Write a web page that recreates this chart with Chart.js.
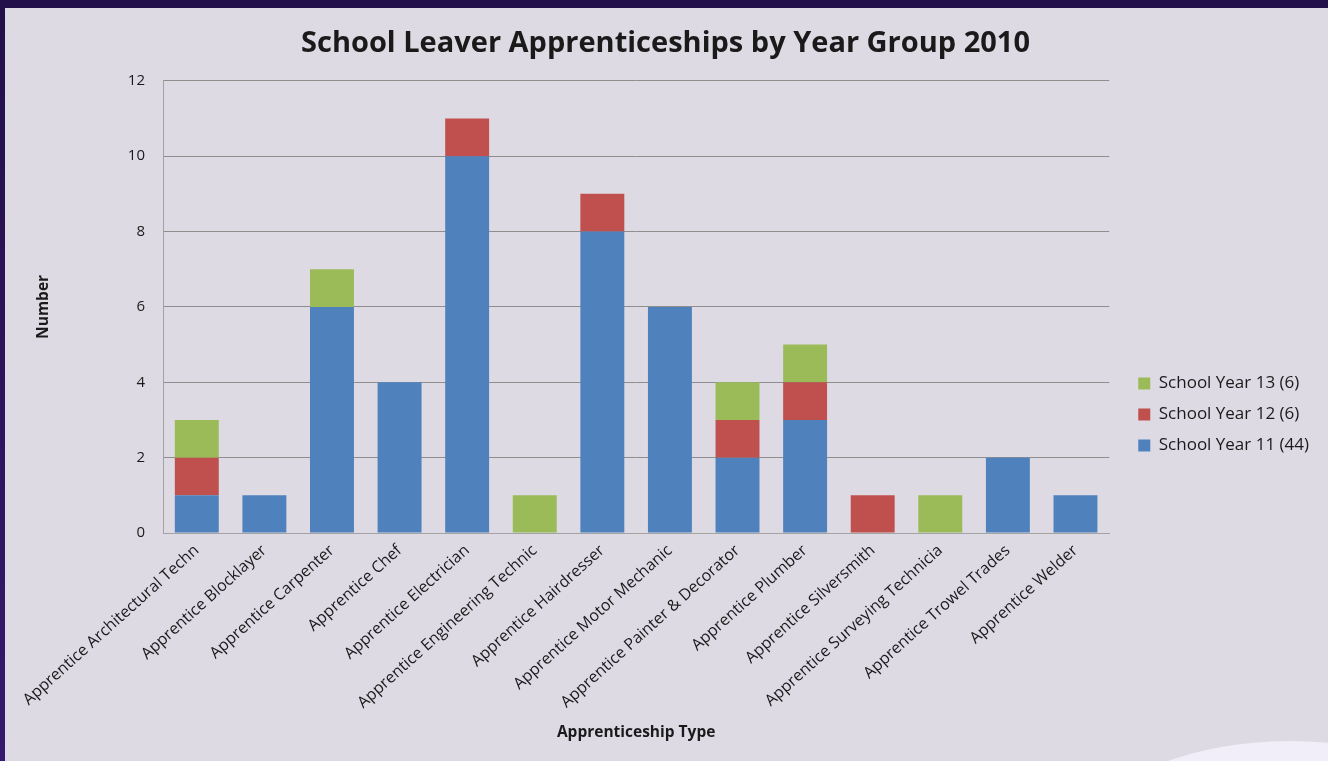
<!DOCTYPE html>
<html>
<head>
<meta charset="utf-8">
<script src="https://cdn.jsdelivr.net/npm/chart.js@4.4.1/dist/chart.umd.min.js"></script>
<style>
  html, body { margin: 0; padding: 0; }
  body {
    width: 1328px; height: 761px; overflow: hidden; position: relative;
    background: linear-gradient(to bottom, #22104a, #36196e);
  }
  #panel {
    position: absolute; left: 5px; top: 8px; width: 1323px; height: 753px;
    background: #dddae4; overflow: hidden;
  }
  /* the pale swoosh in the bottom right corner of the slide */
  #swoosh {
    position: absolute; left: 1005px; top: 733px; width: 560px; height: 400px;
    border-radius: 50%; background: #f1eefa;
  }
  #chart { position: absolute; left: 0; top: 0; }
</style>
</head>
<body>
<div id="panel">
  <div id="swoosh"></div>
  <canvas id="chart" width="1323" height="753"></canvas>
</div>
<script>
// chart data
const apprenticeships = [
  'Apprentice Architectural Techn',
  'Apprentice Blocklayer',
  'Apprentice Carpenter',
  'Apprentice Chef',
  'Apprentice Electrician',
  'Apprentice Engineering Technic',
  'Apprentice Hairdresser',
  'Apprentice Motor Mechanic',
  'Apprentice Painter & Decorator',
  'Apprentice Plumber',
  'Apprentice Silversmith',
  'Apprentice Surveying Technicia',
  'Apprentice Trowel Trades',
  'Apprentice Welder'
];
const year11 = [1, 1, 6, 4, 10, 0, 8, 6, 2, 3, 0, 0, 2, 1];
const year12 = [1, 0, 0, 0, 1, 0, 1, 0, 1, 1, 1, 0, 0, 0];
const year13 = [1, 0, 1, 0, 0, 1, 0, 0, 1, 1, 0, 1, 0, 0];
const seriesNames = ['School Year 11 (44)', 'School Year 12 (6)', 'School Year 13 (6)'];
const yTicks = [0, 2, 4, 6, 8, 10, 12];

const textColour = '#1a1a1a';
const fontFamily = "'Open Sans', 'DejaVu Sans', sans-serif";

// nudges the legend down and right so it sits where the original one did
const legendNudge = {
  id: 'legendNudge',
  afterLayout(chart) {
    const lg = chart.legend;
    lg.left += 15;
    lg.right += 15;
    lg.top += 30;
    lg.bottom += 30;
  }
};

const ctx = document.getElementById('chart');
const schoolLeaverChart = new Chart(ctx, {
  type: 'bar',
  data: {
    labels: apprenticeships,
    datasets: [
      { label: seriesNames[0], data: year11, backgroundColor: '#4f81bd' },
      { label: seriesNames[1], data: year12, backgroundColor: '#c0504d' },
      { label: seriesNames[2], data: year13, backgroundColor: '#9bbb59' }
    ]
  },
  plugins: [legendNudge],
  options: {
    responsive: false,
    animation: false,
    layout: { padding: { left: 22, right: 24, top: 0, bottom: 0 } },
    datasets: {
      bar: { categoryPercentage: 1, barPercentage: 0.65, borderWidth: 0 }
    },
    scales: {
      x: {
        stacked: true,
        grid: { display: false, drawTicks: false },
        border: { color: '#a3a3a3', width: 1 },
        ticks: {
          color: textColour,
          font: { family: fontFamily, size: 16 },
          minRotation: 42,
          maxRotation: 42,
          padding: 8,
          autoSkip: false
        },
        title: {
          display: true,
          text: 'Apprenticeship Type',
          color: textColour,
          font: { family: fontFamily, size: 15.5, weight: 'bold' },
          padding: { top: 0, bottom: 19 }
        },
        afterFit(scale) { scale.height = 228; }
      },
      y: {
        stacked: true,
        min: 0,
        max: 12,
        afterBuildTicks(scale) { scale.ticks = yTicks.map(v => ({ value: v })); },
        grid: { color: '#8e8e8e', lineWidth: 1, drawTicks: false },
        border: { color: '#a3a3a3', width: 1 },
        ticks: {
          color: textColour,
          font: { family: fontFamily, size: 15 },
          padding: 18
        },
        title: {
          display: true,
          text: 'Number',
          color: textColour,
          font: { family: fontFamily, size: 15.5, weight: 'bold' },
          padding: { top: 7, bottom: 0 }
        },
        afterFit(scale) { scale.width = 136; }
      }
    },
    plugins: {
      title: {
        display: true,
        text: 'School Leaver Apprenticeships by Year Group 2010',
        color: textColour,
        font: { family: fontFamily, size: 29, weight: 'bold' },
        padding: { top: 18, bottom: 20 }
      },
      legend: {
        position: 'right',
        reverse: true,
        labels: {
          color: textColour,
          font: { family: fontFamily, size: 17 },
          boxWidth: 12,
          boxHeight: 12,
          padding: 14
        }
      },
      tooltip: { enabled: false }
    }
  }
});
</script>
</body>
</html>
